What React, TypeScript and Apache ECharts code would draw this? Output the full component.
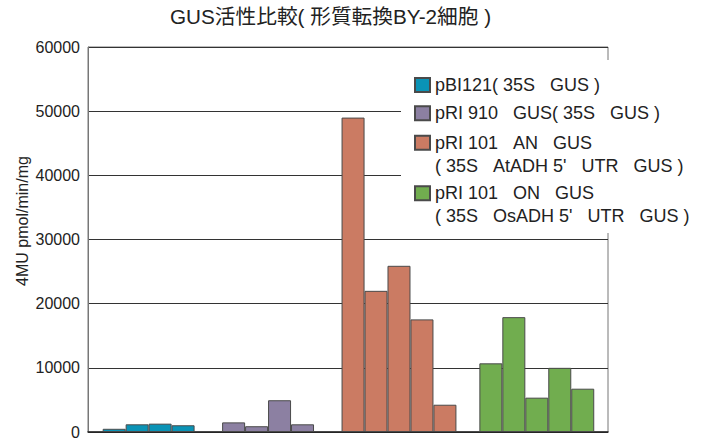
import React, { useEffect, useRef } from "react";
import * as echarts from "echarts";

const S = "\u00a0\u00a0\u00a0";
const chartTitle = "GUS活性比較( 形質転換BY-2細胞 )";
const yAxisTitle = "4MU pmol/min/mg";
const seriesNames = [
  `pBI121( 35S${S}GUS )`,
  `pRI 910${S}GUS( 35S${S}GUS )`,
  `pRI 101${S}AN${S}GUS\n( 35S${S}AtADH 5'${S}UTR${S}GUS )`,
  `pRI 101${S}ON${S}GUS\n( 35S${S}OsADH 5'${S}UTR${S}GUS )`,
];
const colors = ["#0A93B6", "#8C80A2", "#CB7B63", "#71AD4F"];
const pBI121 = [500, 1200, 1300, 1050];
const pRI910 = [1500, 900, 4950, 1200];
const pRI101AN = [49000, 22000, 25900, 17550, 4250];
const pRI101ON = [10700, 17900, 5350, 10000, 6750];
const seriesValues = [pBI121, pRI910, pRI101AN, pRI101ON];
const yTicks = [0, 10000, 20000, 30000, 40000, 50000, 60000];

// layout: slot offsets where each group of bars starts
const groupStart = [0, 5.2, 10.4, 16.4];
const FONT = "'Liberation Sans', Arial, 'Noto Sans CJK JP', sans-serif";

export default function App() {
  const ref = useRef<HTMLDivElement>(null);
  useEffect(() => {
    if (!ref.current) return;
    const chart = echarts.init(ref.current, undefined, { renderer: "svg" });
    const legendTops = [73.5, 101.8, 108.2, 158.8];
    const option: any = {
      animation: false,
      backgroundColor: "#ffffff",
      textStyle: { fontFamily: FONT },
      title: {
        text: chartTitle,
        left: 170,
        top: 6,
        padding: 0,
        textStyle: { fontSize: 20.7, fontWeight: "normal", color: "#222", fontFamily: FONT },
      },
      grid: {
        left: 88,
        right: 94,
        top: 47,
        bottom: 9,
        show: true,
        borderColor: "#777",
        borderWidth: 1,
        backgroundColor: "transparent",
      },
      xAxis: {
        type: "value",
        min: -1.14,
        max: 21.5,
        axisLine: { show: true, onZero: false, lineStyle: { color: "#222", width: 1.5 } },
        axisTick: { show: false },
        axisLabel: { show: false },
        splitLine: { show: false },
      },
      yAxis: {
        type: "value",
        min: yTicks[0],
        max: yTicks[yTicks.length - 1],
        interval: yTicks[1] - yTicks[0],
        axisLine: { show: true, onZero: false, lineStyle: { color: "#777" } },
        axisTick: { show: false },
        axisLabel: {
          fontSize: 16,
          color: "#222",
          margin: 8,
          fontFamily: FONT,
          formatter: (v: number) => String(v),
        },
        splitLine: { show: true, lineStyle: { color: "#333", width: 1 } },
      },
      legend: seriesNames.map((name, i) => ({
        data: [{ name, icon: "rect" }],
        orient: "vertical",
        left: 414,
        top: legendTops[i],
        padding: 0,
        itemWidth: 15,
        itemHeight: 14,
        itemGap: 0,
        selectedMode: false,
        z: 20,
        formatter: (n: string) => (n.indexOf("\n") >= 0 ? " \n" + n : n),
        textStyle: { fontSize: 18, lineHeight: 23, color: "#222", fontFamily: FONT },
      })),
      graphic: [
        {
          type: "rect",
          shape: { x: 401, y: 60, width: 301, height: 173 },
          style: { fill: "#ffffff" },
          z: 10,
        },
        {
          type: "text",
          x: 22,
          y: 221,
          rotation: Math.PI / 2,
          z: 10,
          style: {
            text: yAxisTitle,
            fontSize: 16,
            fontFamily: FONT,
            fill: "#222",
            align: "center",
            verticalAlign: "middle",
          },
        },
      ],
      series: seriesNames.map((name, g) => ({
        name,
        type: "bar",
        barWidth: 23,
        barGap: "-100%",
        itemStyle: { color: colors[g], borderColor: "#4a4a4a", borderWidth: 1 },
        data: seriesValues[g].map((v, j) => [groupStart[g] + j, v]),
      })),
    };
    chart.setOption(option);
    return () => chart.dispose();
  }, []);
  return (
    <div
      ref={ref}
      style={{ width: 702, height: 441, position: "absolute", left: 0, top: 0 }}
    />
  );
}
